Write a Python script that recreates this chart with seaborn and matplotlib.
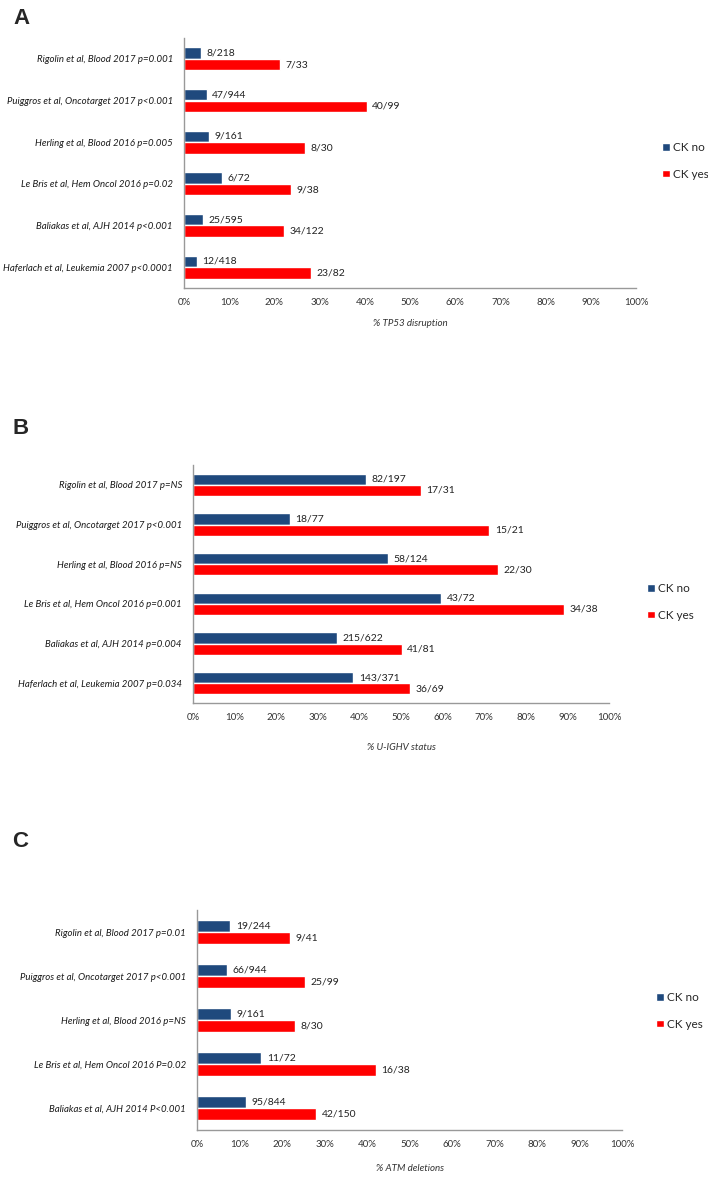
import matplotlib.pyplot as plt
import pandas as pd
import seaborn as sns

# Panel A - TP53 disruption
a_studies = ["Rigolin et al, Blood 2017 p=0.001",
             "Puiggros et al, Oncotarget 2017 p<0.001",
             "Herling et al, Blood 2016 p=0.005",
             "Le Bris et al, Hem Oncol 2016 p=0.02",
             "Baliakas et al, AJH 2014 p<0.001",
             "Haferlach et al, Leukemia 2007 p<0.0001"]
a_no = [3.7, 5.0, 5.6, 8.3, 4.2, 2.9]
a_yes = [21.2, 40.4, 26.7, 23.7, 22.1, 28.0]
a_no_lbl = ["8/218", "47/944", "9/161", "6/72", "25/595", "12/418"]
a_yes_lbl = ["7/33", "40/99", "8/30", "9/38", "34/122", "23/82"]

# Panel B - U-IGHV status
b_studies = ["Rigolin et al, Blood 2017 p=NS",
             "Puiggros et al, Oncotarget 2017 p<0.001",
             "Herling et al, Blood 2016 p=NS",
             "Le Bris et al, Hem Oncol 2016 p=0.001",
             "Baliakas et al, AJH 2014 p=0.004",
             "Haferlach et al, Leukemia 2007 p=0.034"]
b_no = [41.6, 23.2, 46.8, 59.7, 34.6, 38.5]
b_yes = [54.8, 71.2, 73.3, 89.2, 50.2, 52.2]
b_no_lbl = ["82/197", "18/77", "58/124", "43/72", "215/622", "143/371"]
b_yes_lbl = ["17/31", "15/21", "22/30", "34/38", "41/81", "36/69"]

# Panel C - ATM deletions
c_studies = ["Rigolin et al, Blood 2017 p=0.01",
             "Puiggros et al, Oncotarget 2017 p<0.001",
             "Herling et al, Blood 2016 p=NS",
             "Le Bris et al, Hem Oncol 2016 P=0.02",
             "Baliakas et al, AJH 2014 P<0.001"]
c_no = [7.8, 7.0, 8.0, 15.1, 11.6]
c_yes = [21.9, 25.3, 23.0, 42.1, 28.0]
c_no_lbl = ["19/244", "66/944", "9/161", "11/72", "95/844"]
c_yes_lbl = ["9/41", "25/99", "8/30", "16/38", "42/150"]

groups = ["CK no", "CK yes"]
colors = {"CK no": "#1F497D", "CK yes": "#FF0000"}

sns.set_style("white")
plt.rcParams['font.family'] = ['Lato', 'DejaVu Sans']

W, H = 708, 1179
fig = plt.figure(figsize=(W / 100, H / 100), dpi=100)


def px_axes(left, right, top, bottom):
    return fig.add_axes([left / W, 1 - bottom / H, (right - left) / W, (bottom - top) / H])


def panel(ax, studies, no, yes, no_lbl, yes_lbl, xlabel, labelpad, letter, letter_xy, leg_xy):
    df = pd.DataFrame({
        "study": studies * 2,
        "pct": no + yes,
        "group": [groups[0]] * len(studies) + [groups[1]] * len(studies),
    })
    sns.barplot(data=df, x="pct", y="study", hue="group", hue_order=groups,
                palette=colors, orient="h", width=0.56, saturation=1,
                ax=ax, legend=True)
    ax.bar_label(ax.containers[0], labels=no_lbl, padding=4, fontsize=7.5, color="#222222")
    ax.bar_label(ax.containers[1], labels=yes_lbl, padding=4, fontsize=7.5, color="#222222")

    n = len(studies)
    ax.set_xlim(0, 100)
    ax.set_ylim(n - 0.5, -0.5)
    ax.set_xticks(range(0, 101, 10))
    ax.set_xticklabels([f"{v}%" for v in range(0, 101, 10)], fontsize=7, color="#333333")
    ax.set_yticks(range(n))
    ax.set_yticklabels(studies, fontsize=6.9, style="italic", color="#1a1a1a")
    ax.set_yticks([i - 0.5 for i in range(n + 1)], minor=True)
    ax.tick_params(axis="y", which="major", length=0, pad=8)
    ax.tick_params(axis="y", which="minor", length=3, color="#999999", width=0.8)
    ax.tick_params(axis="x", length=3, color="#999999", width=0.8, pad=4)
    ax.set_ylabel("")
    ax.set_xlabel(xlabel, fontsize=7, style="italic", color="#333333", labelpad=labelpad)
    sns.despine(ax=ax)
    for s in ["left", "bottom"]:
        ax.spines[s].set_color("#999999")
        ax.spines[s].set_linewidth(1.0)

    ax.legend(loc="center left", bbox_to_anchor=(leg_xy[0] / W, 1 - leg_xy[1] / H),
              bbox_transform=fig.transFigure, frameon=False, fontsize=8.5,
              handlelength=0.65, handleheight=0.65, handletextpad=0.3,
              labelspacing=1.3, borderpad=0, borderaxespad=0)

    fig.text(letter_xy[0] / W, 1 - letter_xy[1] / H, letter, fontsize=16,
             fontweight="bold", family="Liberation Sans", ha="left", va="top")


ax_a = px_axes(184, 636, 38, 288)
panel(ax_a, a_studies, a_no, a_yes, a_no_lbl, a_yes_lbl, "% TP53 disruption", 9,
      "A", (13, 8), (662, 161))

ax_b = px_axes(193, 609, 465, 703)
panel(ax_b, b_studies, b_no, b_yes, b_no_lbl, b_yes_lbl, "% U-IGHV status", 15,
      "B", (12, 418), (647, 602))

ax_c = px_axes(197, 622, 910, 1130)
panel(ax_c, c_studies, c_no, c_yes, c_no_lbl, c_yes_lbl, "% ATM deletions", 11,
      "C", (12, 831), (656, 1011))

fig.savefig("out.png", dpi=100)
